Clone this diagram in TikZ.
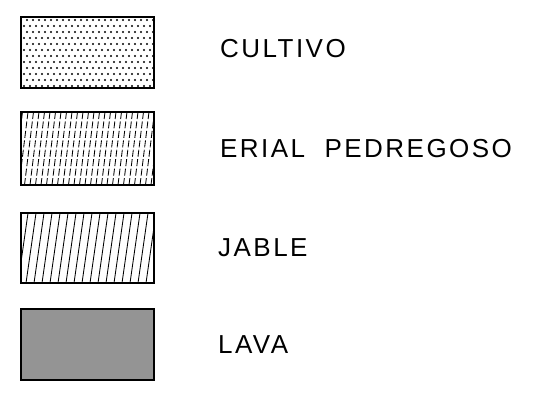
\documentclass[tikz,border=0pt]{standalone}
\usepackage{fontspec}
\setsansfont[LetterSpace=9.5,WordSpace=2]{Liberation Sans}
\usepackage{tikz}
\usetikzlibrary{positioning}

\tikzset{
  legendbox/.style={line width=1.3pt},
  legendtext/.style={anchor=base west,inner sep=0pt,font=\sffamily\fontsize{26}{26}\selectfont},
  hatchline/.style={line width=0.85pt}
}

\begin{document}
\begin{tikzpicture}[x=1pt,y=-1pt]
                    \useasboundingbox (0,0) rectangle (541,394);

                    % cultivo
                    \begin{scope}
                    \clip (21,17) rectangle (154,88);
                    \foreach \j in {0,...,12}
                      \foreach \i in {0,...,23}
                        \fill ({21+6*\i+3*mod(\j,2)},{20+6*\j}) circle (1.05);
                    \end{scope}
                    \draw[legendbox] (21,17) rectangle (154,88);

                    % erial pedregoso
                    \begin{scope}
                    \clip (21,112) rectangle (154,185);
                    \foreach \x in {8,13.5,...,165}
                      \draw[hatchline,dash pattern=on 7pt off 2.5pt] (\x,185) -- (\x+9,112);
                    \end{scope}
                    \draw[legendbox] (21,112) rectangle (154,185);

                    % jable
                    \begin{scope}
                    \clip (21,213) rectangle (154,283);
                    \foreach \x in {10,18,...,165}
                      \draw[hatchline] (\x,283) -- (\x+10,213);
                    \end{scope}
                    \draw[legendbox] (21,213) rectangle (154,283);

                    % lava
                    \draw[legendbox,fill=black!42] (21,309) rectangle (154,380);

                    \node[legendtext] (cultivo) at (220,57) {CULTIVO};
                    \node[legendtext] (erial) at (220,157) {ERIAL PEDREGOSO};
                    \node[legendtext] (jable) at (218,256) {JABLE};
                    \node[legendtext] (lava) at (218,353) {LAVA};
\end{tikzpicture}
\end{document}
